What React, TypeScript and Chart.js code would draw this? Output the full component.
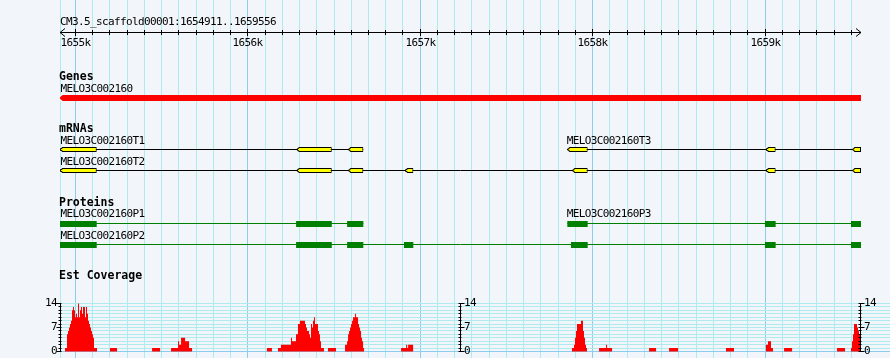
import React, { useEffect, useRef } from 'react';
import { Chart, registerables } from 'chart.js';

Chart.register(...registerables);

// ---------------- data ----------------
const refName = 'CM3.5_scaffold00001';
const regionStart = 1654911;
const regionEnd = 1659556;

const rulerMajorTicks = [1655000, 1656000, 1657000, 1658000, 1659000];
const rulerMajorLabels = ['1655k', '1656k', '1657k', '1658k', '1659k'];
const rulerMinorTicks = [
  1655100, 1655200, 1655300, 1655400, 1655500, 1655600, 1655700, 1655800, 1655900,
  1656100, 1656200, 1656300, 1656400, 1656500, 1656600, 1656700, 1656800, 1656900,
  1657100, 1657200, 1657300, 1657400, 1657500, 1657600, 1657700, 1657800, 1657900,
  1658100, 1658200, 1658300, 1658400, 1658500, 1658600, 1658700, 1658800, 1658900,
  1659100, 1659200, 1659300, 1659400, 1659500,
];

const trackTitles = ['Genes', 'mRNAs', 'Proteins', 'Est Coverage'];

const geneName = 'MELO3C002160';
const geneSpan = [1654911, 1659556];

const mrnaNames = ['MELO3C002160T1', 'MELO3C002160T2', 'MELO3C002160T3'];
const mrnaT1 = [[1654911, 1655124], [1656284, 1656487], [1656583, 1656670]];
const mrnaT2 = [[1654911, 1655124], [1656284, 1656487], [1656583, 1656670], [1656912, 1656960], [1657882, 1657971], [1659005, 1659061], [1659506, 1659556]];
const mrnaT3 = [[1657853, 1657971], [1659005, 1659061], [1659506, 1659556]];

const proteinNames = ['MELO3C002160P1', 'MELO3C002160P2', 'MELO3C002160P3'];
const proteinP1 = [[1654911, 1655124], [1656280, 1656487], [1656576, 1656670]];
const proteinP2 = [[1654911, 1655124], [1656280, 1656487], [1656576, 1656670], [1656906, 1656960], [1657874, 1657971], [1658999, 1659061], [1659498, 1659556]];
const proteinP3 = [[1657853, 1657971], [1658999, 1659061], [1659498, 1659556]];

const covTicks = [0, 7, 14];
const covMax = 14;
const covBinBp = 5.8;
const covStarts = [1654940, 1655201, 1655445, 1655555, 1656111, 1656175, 1656465, 1656564, 1656889, 1657880, 1658037, 1658327, 1658443, 1658773, 1659005, 1659110, 1659417, 1659498];
const covDepths = [
  [1, 1, 5, 6, 7, 8, 9, 12, 13, 12, 10, 11, 10, 14, 10, 12, 13, 11, 13, 13, 10, 13, 11, 9, 8, 7, 6, 5, 4, 1, 1, 1],
  [1, 1, 1, 1, 1, 1, 1],
  [1, 1, 1, 1, 1, 1, 1, 1],
  [1, 1, 1, 1, 1, 1, 1, 3, 2, 2, 4, 4, 4, 4, 3, 3, 3, 3, 1, 1, 1],
  [1, 1, 1, 1, 1],
  [1, 1, 1, 2, 2, 2, 2, 2, 2, 2, 2, 2, 2, 4, 3, 3, 3, 3, 5, 5, 8, 8, 9, 9, 9, 9, 9, 8, 7, 6, 6, 5, 4, 8, 7, 9, 10, 8, 8, 8, 6, 5, 3, 1, 1, 1],
  [1, 1, 1, 1, 1, 1, 1, 1],
  [2, 2, 3, 5, 6, 7, 8, 9, 10, 10, 11, 10, 10, 8, 7, 6, 4, 3, 1],
  [1, 1, 1, 1, 1, 2, 1, 2, 2, 2, 2, 2],
  [1, 1, 2, 4, 6, 8, 8, 8, 8, 9, 9, 6, 4, 2, 1],
  [1, 1, 1, 1, 1, 1, 1, 2, 1, 1, 1, 1, 1],
  [1, 1, 1, 1, 1, 1, 1],
  [1, 1, 1, 1, 1, 1, 1, 1, 1],
  [1, 1, 1, 1, 1, 1, 1, 1],
  [2, 2, 3, 3, 3, 1, 1],
  [1, 1, 1, 1, 1, 1, 1, 1],
  [1, 1, 1, 1, 1, 1, 1, 1],
  [1, 3, 5, 8, 8, 8, 7, 6, 5],
];

// ---------------- layout / style ----------------
const W = 890;
const H = 358;
const PAD_LEFT = 60;
const TRACK_RIGHT_PX = 861;
const BG = '#F2F6FA';
const GRID_MINOR = '#AEEBEF';
const GRID_MAJOR = '#8CCDEE';
const SMALL_FONT = '11px "DejaVu Sans Mono", monospace';
const BOLD_FONT = 'bold 11.5px "DejaVu Sans Mono", monospace';

// rows in pixel units of the hidden "y" scale
const ROW_GENE = 98;
const ROW_T1 = 149.5;
const ROW_T2 = 170.5;
const ROW_P1 = 224;
const ROW_P2 = 245;

const bpPerPx = (regionEnd - regionStart) / (TRACK_RIGHT_PX - PAD_LEFT);
const xMax = regionStart + (W - PAD_LEFT) * bpPerPx;

const COV0_PX = 351.5;
const COV14_PX = 303.5;
const covRange = (covMax * H) / (COV0_PX - COV14_PX);
const covMin = -((H - COV0_PX) * covRange) / H;

function buildCoverage() {
  const pts: { x: number; y: number }[] = [{ x: regionStart, y: 0 }];
  covStarts.forEach((s, k) => {
    const d = covDepths[k];
    d.forEach((v, i) => pts.push({ x: s + i * covBinBp, y: v }));
    pts.push({ x: s + d.length * covBinBp, y: 0 });
  });
  pts.push({ x: regionEnd, y: 0 });
  return pts;
}

function spanLine(exons: number[][], y: number, color: string) {
  const s = exons[0][0];
  const e = exons[exons.length - 1][1];
  return {
    type: 'line' as const,
    data: [{ x: s, y }, { x: e, y }],
    borderColor: color,
    borderWidth: 1,
    pointRadius: 0,
    xAxisID: 'x',
    yAxisID: 'y',
    order: 2,
  };
}

function exonBars(exons: number[][], y: number, fill: string, border: string, thickness: number, bw: number) {
  return {
    type: 'bar' as const,
    indexAxis: 'y' as const,
    data: exons.map((e) => ({ x: e, y })),
    backgroundColor: fill,
    borderColor: border,
    borderWidth: bw,
    borderSkipped: false,
    barThickness: thickness,
    maxBarThickness: thickness,
    grouped: false,
    inflateAmount: 0,
    xAxisID: 'x',
    yAxisID: 'y',
    order: 1,
  };
}

// pointed (minus strand) left ends for exon boxes
function pointLeft(ctx: CanvasRenderingContext2D, px: number, cy: number, half: number, stroke: string | null) {
  const top = cy - half;
  const bot = cy + half;
  const d = 3;
  ctx.fillStyle = BG;
  ctx.beginPath();
  ctx.moveTo(px - 0.5, top - 0.2);
  ctx.lineTo(px + d, top - 0.2);
  ctx.lineTo(px - 0.5, cy - 0.6);
  ctx.closePath();
  ctx.fill();
  ctx.beginPath();
  ctx.moveTo(px - 0.5, bot + 0.2);
  ctx.lineTo(px + d, bot + 0.2);
  ctx.lineTo(px - 0.5, cy + 0.6);
  ctx.closePath();
  ctx.fill();
  if (stroke) {
    ctx.strokeStyle = stroke;
    ctx.beginPath();
    ctx.moveTo(px + d, top + 0.5);
    ctx.lineTo(px, cy);
    ctx.lineTo(px + d, bot - 0.5);
    ctx.stroke();
  }
}

const gbrowsePlugin = {
  id: 'gbrowse',
  beforeDraw(chart: any) {
    const ctx = chart.ctx;
    ctx.save();
    ctx.fillStyle = BG;
    ctx.fillRect(0, 0, chart.width, chart.height);
    ctx.restore();
  },
  beforeDatasetsDraw(chart: any) {
    const ctx = chart.ctx;
    const xs = chart.scales.x;
    const yc = chart.scales.yCov;
    ctx.save();
    ctx.lineWidth = 1;
    const vlines = [regionStart, ...rulerMinorTicks, ...rulerMajorTicks];
    vlines.forEach((v) => {
      const px = Math.floor(xs.getPixelForValue(v)) + 0.5;
      ctx.strokeStyle = rulerMajorTicks.includes(v) ? GRID_MAJOR : GRID_MINOR;
      ctx.beginPath();
      ctx.moveTo(px, 0);
      ctx.lineTo(px, chart.height);
      ctx.stroke();
    });
    const left = Math.floor(xs.getPixelForValue(regionStart));
    for (let v = covMax; v >= 0; v--) {
      const py = Math.floor(yc.getPixelForValue(v)) + 0.5;
      ctx.strokeStyle = v === 0 ? GRID_MAJOR : GRID_MINOR;
      ctx.beginPath();
      ctx.moveTo(left, py);
      ctx.lineTo(chart.width, py);
      ctx.stroke();
    }
    ctx.restore();
  },
  afterDatasetsDraw(chart: any) {
    const ctx = chart.ctx;
    const xs = chart.scales.x;
    const ys = chart.scales.y;
    const yc = chart.scales.yCov;
    const x0 = xs.getPixelForValue(regionStart);
    const x1 = xs.getPixelForValue(regionEnd);
    ctx.save();
    ctx.lineWidth = 1;

    // minus-strand pointed ends
    pointLeft(ctx, x0, ys.getPixelForValue(ROW_GENE), 3, null);
    [[mrnaT1, ROW_T1], [mrnaT2, ROW_T2], [mrnaT3, ROW_T1]].forEach(([ex, row]: any) => {
      ex.forEach((e: number[]) => pointLeft(ctx, xs.getPixelForValue(e[0]), ys.getPixelForValue(row), 2.5, '#000'));
    });

    ctx.fillStyle = '#000';
    ctx.strokeStyle = '#000';
    const small = () => {
      ctx.font = SMALL_FONT;
      (ctx as any).letterSpacing = '-0.62px';
    };
    const bold = () => {
      ctx.font = BOLD_FONT;
      (ctx as any).letterSpacing = '0px';
    };

    // ruler
    small();
    ctx.textAlign = 'left';
    ctx.textBaseline = 'alphabetic';
    ctx.fillText(`${refName}:${regionStart}..${regionEnd}`, x0, 25);
    const ry = 32.5;
    ctx.beginPath();
    ctx.moveTo(x0, ry);
    ctx.lineTo(x1, ry);
    ctx.moveTo(x0 + 5, ry - 4);
    ctx.lineTo(x0, ry);
    ctx.lineTo(x0 + 5, ry + 4);
    ctx.moveTo(x1 - 5, ry - 4);
    ctx.lineTo(x1, ry);
    ctx.lineTo(x1 - 5, ry + 4);
    ctx.stroke();
    rulerMinorTicks.forEach((v) => {
      const px = Math.floor(xs.getPixelForValue(v)) + 0.5;
      ctx.beginPath();
      ctx.moveTo(px, 30);
      ctx.lineTo(px, 35);
      ctx.stroke();
    });
    ctx.textAlign = 'center';
    rulerMajorTicks.forEach((v, i) => {
      const px = Math.floor(xs.getPixelForValue(v)) + 0.5;
      ctx.beginPath();
      ctx.moveTo(px, 29);
      ctx.lineTo(px, 36);
      ctx.stroke();
      ctx.fillText(rulerMajorLabels[i], px, 46);
    });

    // track titles
    ctx.textAlign = 'left';
    bold();
    ctx.fillText(trackTitles[0], x0 - 1, 79.5);
    ctx.fillText(trackTitles[1], x0 - 1, 132);
    ctx.fillText(trackTitles[2], x0 - 1, 205.5);
    ctx.fillText(trackTitles[3], x0 - 1, 279);

    // feature labels
    small();
    ctx.fillText(geneName, x0 + 0.5, 92);
    ctx.fillText(mrnaNames[0], x0 + 0.5, 144);
    ctx.fillText(mrnaNames[1], x0 + 0.5, 165);
    ctx.fillText(mrnaNames[2], xs.getPixelForValue(mrnaT3[0][0]) - 0.5, 144);
    ctx.fillText(proteinNames[0], x0 + 0.5, 217);
    ctx.fillText(proteinNames[1], x0 + 0.5, 238.5);
    ctx.fillText(proteinNames[2], xs.getPixelForValue(proteinP3[0][0]) - 0.5, 217);

    // coverage axes (left, middle, right)
    const axes = [
      { x: Math.floor(x0) + 0.5, side: -1 },
      { x: Math.floor((x0 + x1) / 2) + 0.5, side: 1 },
      { x: Math.floor(x1) + 0.5, side: 1 },
    ];
    const top = Math.floor(yc.getPixelForValue(covMax)) + 0.5;
    const bot = Math.floor(yc.getPixelForValue(0)) + 0.5;
    axes.forEach((a) => {
      ctx.beginPath();
      ctx.moveTo(a.x, top);
      ctx.lineTo(a.x, bot);
      for (let v = 0; v <= covMax; v++) {
        const py = Math.floor(yc.getPixelForValue(v)) + 0.5;
        const major = covTicks.includes(v);
        if (major) {
          ctx.moveTo(a.x - (a.side < 0 ? 4 : 2), py);
          ctx.lineTo(a.x + (a.side > 0 ? 4 : 1), py);
        } else {
          ctx.moveTo(a.x - 2, py);
          ctx.lineTo(a.x + 1, py);
        }
      }
      ctx.stroke();
      ctx.textBaseline = 'middle';
      ctx.textAlign = a.side < 0 ? 'right' : 'left';
      covTicks.forEach((v) => {
        const py = Math.floor(yc.getPixelForValue(v)) + 0.5;
        ctx.fillText(String(v), a.x + (a.side < 0 ? -3.5 : 3.5), py);
      });
    });
    ctx.restore();
  },
};

export default function App() {
  const ref = useRef<HTMLCanvasElement>(null);
  useEffect(() => {
    document.body.style.margin = '0';
    document.body.style.background = BG;
    const canvas = ref.current!;
    const datasets: any[] = [
      {
        type: 'line',
        data: buildCoverage(),
        xAxisID: 'x',
        yAxisID: 'yCov',
        stepped: 'before',
        fill: 'origin',
        backgroundColor: '#FF0000',
        borderColor: 'rgba(0,0,0,0)',
        borderWidth: 1,
        pointRadius: 0,
        order: 3,
      },
      exonBars([geneSpan], ROW_GENE, '#FF0000', '#FF0000', 6, 0),
      spanLine(mrnaT1, ROW_T1, '#000'),
      exonBars(mrnaT1, ROW_T1, '#FFFF00', '#000', 5, 1),
      spanLine(mrnaT2, ROW_T2, '#000'),
      exonBars(mrnaT2, ROW_T2, '#FFFF00', '#000', 5, 1),
      spanLine(mrnaT3, ROW_T1, '#000'),
      exonBars(mrnaT3, ROW_T1, '#FFFF00', '#000', 5, 1),
      spanLine(proteinP1, ROW_P1 - 0.5, '#008000'),
      exonBars(proteinP1, ROW_P1, '#008000', '#008000', 6, 0),
      spanLine(proteinP2, ROW_P2 - 0.5, '#008000'),
      exonBars(proteinP2, ROW_P2, '#008000', '#008000', 6, 0),
      spanLine(proteinP3, ROW_P1 - 0.5, '#008000'),
      exonBars(proteinP3, ROW_P1, '#008000', '#008000', 6, 0),
    ];
    const chart = new Chart(canvas, {
      type: 'bar',
      data: { datasets },
      options: {
        responsive: false,
        animation: false,
        devicePixelRatio: 1,
        layout: { padding: { left: PAD_LEFT, right: 0, top: 0, bottom: 0 } },
        plugins: { legend: { display: false }, tooltip: { enabled: false }, title: { display: false } },
        events: [],
        scales: {
          x: { type: 'linear', min: regionStart, max: xMax, display: false, offset: false },
          y: { type: 'linear', min: 0, max: H, reverse: true, display: false, offset: false, ticks: { stepSize: 50 } },
          yCov: { type: 'linear', min: covMin, max: covMin + covRange, display: false, offset: false },
        },
      } as any,
      plugins: [gbrowsePlugin],
    });
    return () => chart.destroy();
  }, []);
  return (
    <div style={{ position: 'absolute', left: 0, top: 0, width: W, height: H, background: BG }}>
      <canvas ref={ref} width={W} height={H} style={{ display: 'block', width: W, height: H }} />
    </div>
  );
}
